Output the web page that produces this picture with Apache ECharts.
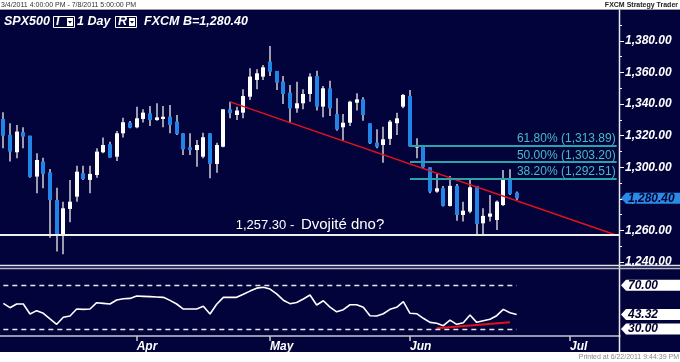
<!DOCTYPE html>
<html><head><meta charset="utf-8">
<script src="https://cdn.jsdelivr.net/npm/echarts@6/dist/echarts.min.js"></script>
<style>html,body{margin:0;padding:0;background:#fff;}#c{width:680px;height:362px;}</style>
</head><body><div id="c"></div>
<script>
// ---- data ----
const dates = ['3/4','3/7','3/8','3/9','3/10','3/11','3/14','3/15','3/16','3/17','3/18','3/21','3/22','3/23','3/24','3/25','3/28','3/29','3/30','3/31',
'4/1','4/4','4/5','4/6','4/7','4/8','4/11','4/12','4/13','4/14','4/15','4/18','4/19','4/20','4/21','4/25','4/26','4/27','4/28','4/29',
'5/2','5/3','5/4','5/5','5/6','5/9','5/10','5/11','5/12','5/13','5/16','5/17','5/18','5/19','5/20','5/23','5/24','5/25','5/26','5/27','5/31',
'6/1','6/2','6/3','6/6','6/7','6/8','6/9','6/10','6/13','6/14','6/15','6/16','6/17','6/20','6/21','6/22','6/23'];
const futureDates = ['6/24','6/25','6/26','6/27','6/28','6/29','6/30','7/1','7/2','7/3','7/4','7/5','7/6','7/7','7/8'];
const opens = [1330.6,1320.5,1309.5,1322.2,1320.0,1294.1,1303.6,1296.8,1279.3,1257.1,1273.6,1281.4,1296.2,1292.0,1295.1,1309.5,1314.6,1306.7,1321.5,1328.3,
1325.3,1330.6,1334.2,1329.9,1330.6,1332.0,1328.9,1321.5,1312.6,1310.9,1306.7,1321.5,1302.1,1313.0,1336.7,1333.1,1334.6,1344.7,1355.3,1357.4,
1366.9,1361.0,1354.2,1347.2,1337.3,1340.5,1346.4,1357.8,1338.4,1350.0,1333.7,1325.3,1328.2,1340.9,1343.0,1327.8,1315.6,1314.1,1318.0,1327.9,1338.4,
1345.2,1312.5,1313.5,1300.0,1284.6,1286.7,1275.5,1288.2,1269.8,1271.9,1288.2,1264.5,1268.7,1266.6,1276.1,1293.0,1283.9];
const closes = [1320.0,1309.9,1322.6,1319.4,1293.9,1304.6,1295.8,1279.3,1257.1,1274.0,1278.2,1297.2,1292.6,1295.8,1309.9,1314.1,1306.1,1321.5,1328.5,1325.1,
1331.0,1334.6,1329.9,1331.6,1332.0,1326.8,1321.1,1311.4,1310.9,1314.1,1319.0,1302.1,1314.1,1336.7,1334.2,1335.9,1345.1,1357.4,1359.5,1363.3,
1360.5,1353.6,1346.4,1337.3,1340.5,1346.4,1357.4,1338.4,1350.0,1337.3,1324.0,1328.2,1341.5,1343.0,1333.1,1315.2,1313.0,1317.7,1328.9,1331.0,1345.8,
1313.1,1313.5,1300.0,1284.6,1286.7,1275.5,1288.2,1269.8,1272.5,1287.3,1264.1,1269.2,1270.7,1278.2,1292.0,1283.1,1280.4];
const lows = [1312.0,1303.6,1305.7,1312.0,1293.4,1283.5,1286.7,1255.4,1246.6,1244.9,1265.2,1278.2,1292.0,1283.5,1293.4,1308.9,1306.1,1304.0,1318.8,1324.7,
1324.7,1328.3,1326.1,1329.5,1325.3,1321.5,1320.4,1307.8,1307.8,1300.4,1305.7,1293.0,1296.6,1312.6,1331.0,1329.9,1331.0,1342.6,1349.4,1355.3,
1357.8,1348.9,1340.1,1328.2,1334.6,1336.7,1341.5,1335.9,1331.6,1332.5,1323.2,1316.8,1326.1,1335.9,1329.5,1314.7,1312.0,1302.9,1314.1,1320.5,1337.4,
1313.1,1305.7,1299.4,1283.5,1283.9,1275.1,1275.1,1266.2,1265.6,1270.9,1257.1,1257.1,1265.6,1260.3,1275.5,1282.5,1279.3];
const highs = [1334.8,1327.9,1326.8,1325.3,1320.0,1308.9,1306.1,1298.9,1287.1,1278.2,1292.0,1301.0,1301.0,1301.0,1312.0,1318.8,1316.2,1323.0,1331.4,1329.3,
1338.4,1336.7,1338.8,1340.5,1338.8,1339.4,1333.1,1321.5,1321.5,1317.3,1321.9,1321.5,1315.6,1336.7,1341.5,1338.4,1349.4,1362.7,1362.0,1364.8,
1376.8,1361.0,1357.8,1352.1,1354.2,1349.4,1359.5,1361.2,1351.5,1354.8,1343.7,1333.7,1342.2,1346.8,1344.3,1327.8,1324.0,1325.7,1329.9,1334.6,1346.4,
1349.0,1318.4,1313.5,1300.0,1295.8,1288.2,1294.5,1289.4,1278.2,1293.0,1288.2,1274.0,1282.5,1278.9,1298.3,1298.7,1284.6];
const rsi = [53.5,49.5,52.9,52.9,43.7,46.8,44.4,39.2,34.3,40.7,41.9,48.3,48.0,48.3,54.1,53.5,52.9,56.5,57.7,58.0,
60.2,59.9,59.6,59.3,59.0,56.2,52.9,48.3,48.3,48.3,50.8,43.7,52.6,59.0,59.0,59.0,61.8,64.7,67.4,68.2,
66.6,62.2,56.4,53.2,54.3,57.5,61.1,52.0,55.9,50.1,45.7,47.7,52.2,52.2,49.9,42.2,41.9,44.0,48.0,49.9,55.0,
44.4,44.0,39.8,36.1,35.2,33.0,38.2,34.3,35.8,42.8,36.1,37.6,38.9,42.2,48.0,44.9,43.32];
const monthLabels = {'4/1':'Apr','5/2':'May','6/1':'Jun','7/1':'Jul'};
const supportLevel = 1257.30;
const fibLevels = [1313.89, 1303.20, 1292.51];
const fibPercents = ['61.80%', '50.00%', '38.20%'];
const fibRange = ['6/1', '7/8'];
const trendLine = [['4/21', 1341.4], ['7/8', 1256.9]];
const rsiTrend = [['6/7', 30.6], ['6/22', 36.1]];
const rsiLevels = [70, 30];
const lastPrice = 1280.40;
const lastRsi = 43.32;

// ---- helpers ----
const cats = dates.concat(futureDates);
const fmt = v => { const s = v.toFixed(2).split('.'); return s[0].replace(/\B(?=(\d{3})+(?!\d))/g, ',') + '.' + s[1]; };
const FONT = '"Liberation Sans", Arial, sans-serif';
const NAVY = '#03033b';

const chart = echarts.init(document.getElementById('c'), null, {renderer: 'canvas'});

const option = {
  animation: false,
  backgroundColor: NAVY,
  grid: [
    {left: 0, width: 620, top: 9.36, height: 252.64},
    {left: 0, width: 620, top: 271, height: 65}
  ],
  xAxis: [
    {type: 'category', gridIndex: 0, data: cats, show: false},
    {type: 'category', gridIndex: 1, data: cats,
     axisLine: {show: true, lineStyle: {color: '#c8c8d4', width: 1.5}},
     axisTick: {show: true, alignWithLabel: true, length: 5, lineStyle: {color: '#c8c8d4', width: 1.5},
                interval: (i, v) => monthLabels[v] !== undefined},
     axisLabel: {show: true, interval: (i, v) => monthLabels[v] !== undefined,
                 formatter: v => monthLabels[v] || '', align: 'left', margin: 5,
                 color: '#ffffff', fontWeight: 'bold', fontStyle: 'italic', fontSize: 12, fontFamily: FONT},
     splitLine: {show: false}}
  ],
  yAxis: [
    {type: 'value', gridIndex: 0, position: 'right', min: 1240, max: 1400, interval: 20,
     axisLine: {show: false},
     axisTick: {show: true, length: 4, lineStyle: {color: '#ffffff', width: 1}},
     minorTick: {show: true, splitNumber: 2, length: 2, lineStyle: {color: '#ffffff', width: 1}},
     axisLabel: {showMaxLabel: false, formatter: v => v >= 1400 ? '' : fmt(v), margin: 5,
                 color: '#ffffff', fontWeight: 'bold', fontStyle: 'italic', fontSize: 12, fontFamily: FONT},
     splitLine: {show: false}},
    {type: 'value', gridIndex: 1, min: 23.6, max: 83.1, show: false, splitLine: {show: false}}
  ],
  series: [
    {
      type: 'custom', xAxisIndex: 0, yAxisIndex: 0, z: 2,
      data: dates.map((d, i) => [i, opens[i], closes[i], lows[i], highs[i]]),
      encode: {x: 0, y: [1, 2, 3, 4]},
      renderItem: function (params, api) {
        const i = api.value(0);
        const o = api.coord([i, api.value(1)]);
        const c = api.coord([i, api.value(2)]);
        const l = api.coord([i, api.value(3)]);
        const h = api.coord([i, api.value(4)]);
        const x = Math.round(o[0]);
        const up = api.value(2) >= api.value(1);
        const top = Math.min(o[1], c[1]), bot = Math.max(o[1], c[1]);
        return {type: 'group', children: [
          {type: 'line', shape: {x1: x, y1: h[1], x2: x, y2: l[1]}, style: {stroke: '#9c9cae', lineWidth: 2}},
          {type: 'rect', shape: {x: x - 2, y: top, width: 4, height: Math.max(bot - top, 1.5)},
           style: {fill: up ? '#ffffff' : '#2384e8'}}
        ]};
      }
    },
    {
      type: 'line', xAxisIndex: 0, yAxisIndex: 0, z: 4, data: trendLine, symbol: 'none',
      lineStyle: {color: '#e5101c', width: 1.5},
      markLine: {
        silent: true, symbol: 'none', animation: false,
        data: [
          {yAxis: supportLevel, lineStyle: {color: '#eeeeee', width: 2, type: 'solid'},
           label: {show: true, position: 'insideMiddleTop', distance: 2,
                   formatter: '{a|' + fmt(supportLevel) + ' -}  {b|Dvojité dno?}',
                   rich: {a: {color: '#ffffff', fontSize: 13, fontFamily: FONT},
                          b: {color: '#ffffff', fontSize: 15, fontFamily: FONT}}}}
        ].concat(fibLevels.map((lv, k) => [
          {coord: [fibRange[0], lv], lineStyle: {color: '#2aa3a8', width: 1.8, type: 'solid'},
           label: {show: true, position: 'insideEndTop', distance: 1,
                   formatter: fibPercents[k] + ' (' + fmt(lv) + ')',
                   color: '#45bcc2', fontSize: 12, fontFamily: FONT}},
          {coord: [fibRange[1], lv]}
        ]))
      }
    },
    {
      type: 'line', xAxisIndex: 1, yAxisIndex: 1, z: 3, data: rsi, symbol: 'none',
      lineStyle: {color: '#ffffff', width: 1.6},
      markLine: {
        silent: true, symbol: 'none', animation: false, label: {show: false},
        lineStyle: {color: '#e8e8e8', width: 1.3, type: [5, 4]},
        data: rsiLevels.map(lv => [{coord: [dates[0], lv]}, {coord: [dates[dates.length - 1], lv]}])
      }
    },
    {
      type: 'line', xAxisIndex: 1, yAxisIndex: 1, z: 4, data: rsiTrend, symbol: 'none',
      lineStyle: {color: '#e5101c', width: 2}
    }
  ]
};
chart.setOption(option);

function tag(y, fill, text, textColor) {
  return [
    {type: 'polygon', z: 50, shape: {points: [[621, y], [626, y - 5.5], [680, y - 5.5], [680, y + 5.5], [626, y + 5.5]]},
     style: {fill: fill}},
    {type: 'text', z: 51, x: 628, y: y, style: {text: text, fill: textColor, font: 'italic bold 12px ' + FONT,
     verticalAlign: 'middle', align: 'left'}}
  ];
}
const yPrice = chart.convertToPixel({yAxisIndex: 0}, lastPrice);
let tags = tag(yPrice, '#2a8ae8', fmt(lastPrice), '#02022e');
rsiLevels.concat([lastRsi]).forEach(v => {
  const yy = chart.convertToPixel({yAxisIndex: 1}, v);
  tags = tags.concat(tag(yy, '#ffffff', v.toFixed(2), '#02022e'));
});

function dropBox(x, label) {
  return [
    {type: 'rect', z: 50, shape: {x: x + 0.5, y: 16.5, width: 21, height: 11}, style: {fill: 'none', stroke: '#ffffff', lineWidth: 1}},
    {type: 'text', z: 51, x: x + 3, y: 22, style: {text: label, fill: '#ffffff', font: 'italic bold 12.5px ' + FONT, verticalAlign: 'middle'}},
    {type: 'rect', z: 51, shape: {x: x + 14, y: 18, width: 6, height: 8}, style: {fill: '#ffffff'}},
    {type: 'polygon', z: 52, shape: {points: [[x + 15, 21], [x + 19, 21], [x + 17, 23.5]]}, style: {fill: NAVY}}
  ];
}

const graphics = [
  {type: 'rect', z: 40, shape: {x: 0, y: 0, width: 680, height: 9.5}, style: {fill: '#ffffff'}},
  {type: 'rect', z: 40, shape: {x: 0, y: 352, width: 680, height: 10}, style: {fill: '#ffffff'}},
  {type: 'line', z: 40, shape: {x1: 0, y1: 9.5, x2: 680, y2: 9.5}, style: {stroke: '#9a9aa6', lineWidth: 1}},
  {type: 'text', z: 41, x: 1, y: 4.8, style: {text: '3/4/2011 4:00:00 PM - 7/8/2011 5:00:00 PM', fill: '#333333', font: '7px ' + FONT, verticalAlign: 'middle'}},
  {type: 'text', z: 41, x: 678, y: 4.8, style: {text: 'FXCM Strategy Trader', fill: '#222222', font: 'bold 7px ' + FONT, verticalAlign: 'middle', align: 'right'}},
  {type: 'text', z: 41, x: 679, y: 357.5, style: {text: 'Printed at 6/22/2011 9:44:39 PM', fill: '#888888', font: '7px ' + FONT, verticalAlign: 'middle', align: 'right'}},
  {type: 'line', z: 40, shape: {x1: 619.5, y1: 9.5, x2: 619.5, y2: 352}, style: {stroke: '#e8e8f0', lineWidth: 1.5}},
  {type: 'line', z: 40, shape: {x1: 0, y1: 265.5, x2: 680, y2: 265.5}, style: {stroke: '#e0e0e8', lineWidth: 1.5}},
  {type: 'line', z: 40, shape: {x1: 0, y1: 268.5, x2: 680, y2: 268.5}, style: {stroke: '#b8b8c4', lineWidth: 1.5}},
  {type: 'rect', z: 39, shape: {x: 0, y: 266.2, width: 680, height: 1.6}, style: {fill: NAVY}},
  {type: 'text', z: 41, x: 4, y: 22, style: {text: 'SPX500', fill: '#ffffff', font: 'italic bold 12.5px ' + FONT, verticalAlign: 'middle'}},
  {type: 'text', z: 41, x: 77, y: 22, style: {text: '1 Day', fill: '#ffffff', font: 'italic bold 12.5px ' + FONT, verticalAlign: 'middle'}},
  {type: 'text', z: 41, x: 144, y: 22, style: {text: 'FXCM', fill: '#ffffff', font: 'italic bold 12.5px ' + FONT, verticalAlign: 'middle'}},
  {type: 'text', z: 41, x: 183, y: 22, style: {text: 'B=' + fmt(lastPrice), fill: '#ffffff', font: 'italic bold 12.5px ' + FONT, verticalAlign: 'middle'}}
].concat(dropBox(53, 'I'), dropBox(115, 'R'), tags);

chart.setOption({graphic: {elements: graphics}});
</script>
</body></html>
